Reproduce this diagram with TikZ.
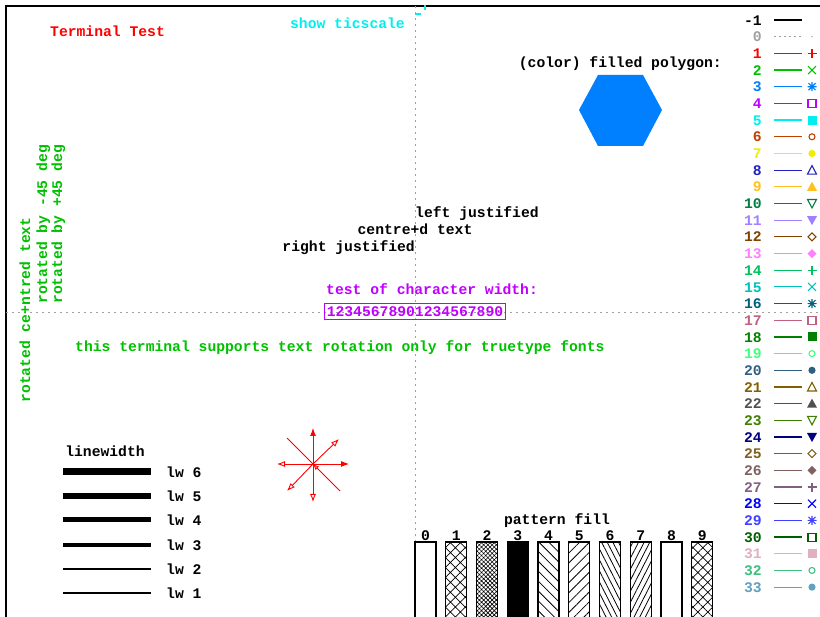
\documentclass[tikz,border=0pt]{standalone}
\usepackage{fontspec}
\setmonofont{Liberation Mono}
\usepackage{xcolor}
\usetikzlibrary{arrows.meta,patterns.meta}

\newcommand{\gpfont}{\ttfamily\bfseries\fontsize{14.7}{16}\selectfont}

% line type colours
\definecolor{ltm1}{HTML}{000000}
\definecolor{lt0}{HTML}{A0A0A0}
\definecolor{lt1}{HTML}{FF0000}
\definecolor{lt2}{HTML}{00C000}
\definecolor{lt3}{HTML}{0080FF}
\definecolor{lt4}{HTML}{C000FF}
\definecolor{lt5}{HTML}{00EEEE}
\definecolor{lt6}{HTML}{C04000}
\definecolor{lt7}{HTML}{EEEE00}
\definecolor{lt8}{HTML}{2020C0}
\definecolor{lt9}{HTML}{FFC020}
\definecolor{lt10}{HTML}{008040}
\definecolor{lt11}{HTML}{A080FF}
\definecolor{lt12}{HTML}{804000}
\definecolor{lt13}{HTML}{FF80FF}
\definecolor{lt14}{HTML}{00C060}
\definecolor{lt15}{HTML}{00C0C0}
\definecolor{lt16}{HTML}{006080}
\definecolor{lt17}{HTML}{C06080}
\definecolor{lt18}{HTML}{008000}
\definecolor{lt19}{HTML}{40FF80}
\definecolor{lt20}{HTML}{306080}
\definecolor{lt21}{HTML}{806000}
\definecolor{lt22}{HTML}{505050}
\definecolor{lt23}{HTML}{408000}
\definecolor{lt24}{HTML}{000080}
\definecolor{lt25}{HTML}{806020}
\definecolor{lt26}{HTML}{806060}
\definecolor{lt27}{HTML}{806080}
\definecolor{lt28}{HTML}{0000FF}
\definecolor{lt29}{HTML}{4040FF}
\definecolor{lt30}{HTML}{006000}
\definecolor{lt31}{HTML}{E0B0C0}
\definecolor{lt32}{HTML}{40C080}
\definecolor{lt33}{HTML}{60A0C0}

% point types 1..13, centred at (812,y)
\newcommand{\gpmark}[3]{%
  \begin{scope}[shift={(812,#3)}, color=#2, line width=1.1pt]
  \ifcase#1\relax
  \or \draw (-4.5,0) -- (4.5,0) (0,-4.5) -- (0,4.5);
  \or \draw (-4,-4) -- (4,4) (-4,4) -- (4,-4);
  \or \draw (-4.5,0) -- (4.5,0) (0,-4.5) -- (0,4.5)
            (-3.5,-3.5) -- (3.5,3.5) (-3.5,3.5) -- (3.5,-3.5);
  \or \draw (-4,-4) rectangle (4,4);
  \or \fill (-4.5,-4.5) rectangle (4.5,4.5);
  \or \draw (0,0) circle (3);
  \or \fill (0,0) circle (3.6);
  \or \draw (-4.5,4) -- (4.5,4) -- (0,-4.5) -- cycle;
  \or \fill (-5,4) -- (5,4) -- (0,-5) -- cycle;
  \or \draw (-4.5,-4) -- (4.5,-4) -- (0,4.5) -- cycle;
  \or \fill (-5,-4) -- (5,-4) -- (0,5) -- cycle;
  \or \draw (-4,0) -- (0,-4) -- (4,0) -- (0,4) -- cycle;
  \or \fill (-4.5,0) -- (0,-4.5) -- (4.5,0) -- (0,4.5) -- cycle;
  \fi
  \end{scope}}

\begin{document}
\begin{tikzpicture}[
  x=1pt, y=-1pt,
  every node/.style={inner sep=0pt, font=\gpfont},
  frame/.style  ={line width=1.6pt},
  axis/.style   ={lt0, line width=0.9pt, dash pattern=on 2pt off 4pt},
  keyline/.style={line width=1.2pt},
  patbox/.style ={draw, line width=1.3pt},
  pat0/.style={},
  pat1/.style={pattern={Hatch[angle=45,distance=7pt,line width=0.7pt]}},
  pat2/.style={pattern={Hatch[angle=45,distance=3pt,line width=0.6pt]}},
  pat3/.style={fill=black},
  pat4/.style={pattern={Lines[angle=-45,distance=7pt,line width=0.8pt]}},
  pat5/.style={pattern={Lines[angle=45,distance=7pt,line width=0.8pt]}},
  pat6/.style={pattern={Lines[angle=-63,distance=5pt,line width=0.8pt]}},
  pat7/.style={pattern={Lines[angle=63,distance=5pt,line width=0.8pt]}},
  pat8/.style={},
  pat9/.style={pattern={Hatch[angle=45,distance=7pt,line width=0.7pt]}},
  arrf/.style={lt1, line width=0.9pt, -{Latex[length=8pt,width=6pt]}},
  arro/.style={lt1, line width=0.9pt, -{Latex[open,length=8pt,width=6pt]}},
  arrl/.style={lt1, line width=0.9pt},
  arrb/.style={lt1, line width=0.9pt, {Latex[open,length=6pt,width=5pt]}-}
]
\useasboundingbox (0,0) rectangle (820,617);

% --- Frame and zero axes ---
\draw[frame] (6,617) -- (6,6) -- (820,6);
\draw[axis] (415,6) -- (415,617);
\draw[axis] (6,312) -- (820,312);

% --- Titles ---
\node[anchor=mid west, text=lt1] (title) at (50,34) {Terminal Test};
\node[anchor=mid east, text=lt5] (tics) at (405,26) {show ticscale};
\draw[lt5, line width=1.2pt] (415,14) -- (421,14) (425,5) -- (425,10);

% --- Filled polygon ---
\node[anchor=mid east] (polylbl) at (722,65) {(color) filled polygon:};
\fill[lt3] (579,110) -- (598,75) -- (643,75) -- (662,110) -- (643,146) -- (598,146) -- cycle;

% --- Justification ---
\node[anchor=mid west] (ljust) at (415,215) {left justified};
\node[anchor=mid]      (cjust) at (415,232) {centre+d text};
\node[anchor=mid east] (rjust) at (415,249) {right justified};

% --- Character width ---
\node[anchor=mid west, text=lt4] (cwlbl) at (326,292) {test of character width:};
\node[draw=lt4, line width=1pt, inner xsep=2pt, inner ysep=3pt, text=lt4]
  (cwbox) at (415,312) {12345678901234567890};

% --- Rotated text ---
\node[anchor=mid west, text=lt2] (rotnote) at (75,349)
  {this terminal supports text rotation only for truetype fonts};
\node[rotate=90, anchor=mid, text=lt2] (rotc) at (28,310) {rotated ce+ntred text};
\node[rotate=90, anchor=mid west, text=lt2] (rotm) at (45,304) {rotated by -45 deg};
\node[rotate=90, anchor=mid west, text=lt2] (rotp) at (60,304) {rotated by +45 deg};

% --- Arrow styles ---
\coordinate (ac)  at (313,464);
\coordinate (aN)  at (313,428);
\coordinate (aE)  at (349,464);
\coordinate (aW)  at (277,464);
\coordinate (aS)  at (313,502);
\coordinate (aNE) at (339,439);
\coordinate (aSW) at (287,491);
\coordinate (aNW) at (287,438);
\coordinate (aSE) at (340,491);
\draw[arrf] (ac) -- (aN);
\draw[arrf] (ac) -- (aE);
\draw[arro] (ac) -- (aW);
\draw[arro] (ac) -- (aS);
\draw[arro] (ac) -- (aNE);
\draw[arro] (ac) -- (aSW);
\draw[arrl] (ac) -- (aNW);
\draw[arrb] (ac) -- (aSE);

% --- Line widths ---
\node (lwlbl) at (105,451) {linewidth};
\foreach \k/\yy/\w in {6/472/7, 5/496/6, 4/520/5, 3/545/3.6, 2/569/2.4, 1/593/1.4} {
  \draw[line width=\w pt] (63,\yy) -- (151,\yy);
  \node[anchor=mid west] (lw\k) at (166,\yy+3) {lw \k};
}

% --- Pattern fill ---
\node (patlbl) at (557,521) {pattern fill};
\foreach \i in {0,...,9} {
  \pgfmathsetmacro\xx{415+30.75*\i}
  \draw[patbox, pat\i] (\xx,542) rectangle ++(21,90);
  \node (patn\i) at (\xx+10.5,536) {\i};
}

% --- Line type key ---
\node[anchor=mid east] (keym1) at (762,23) {-1};
\draw[keyline] (774,20) -- (802,20);
\node[anchor=mid east, text=lt0] (key0) at (762,39.68) {0};
\draw[keyline, lt0, dash pattern=on 2pt off 3pt] (774,36.68) -- (802,36.68);
\fill[lt0] (812,36.68) circle (0.8);
\foreach \n in {1,...,33} {
  \pgfmathsetmacro\yy{20+(\n+1)*16.68}
  \pgfmathtruncatemacro\pt{mod(\n-1,13)+1}
  \node[anchor=mid east, text=lt\n] (key\n) at (762,\yy+3) {\n};
  \draw[keyline, lt\n] (774,\yy) -- (802,\yy);
  \gpmark{\pt}{lt\n}{\yy}
}

\end{tikzpicture}
\end{document}
